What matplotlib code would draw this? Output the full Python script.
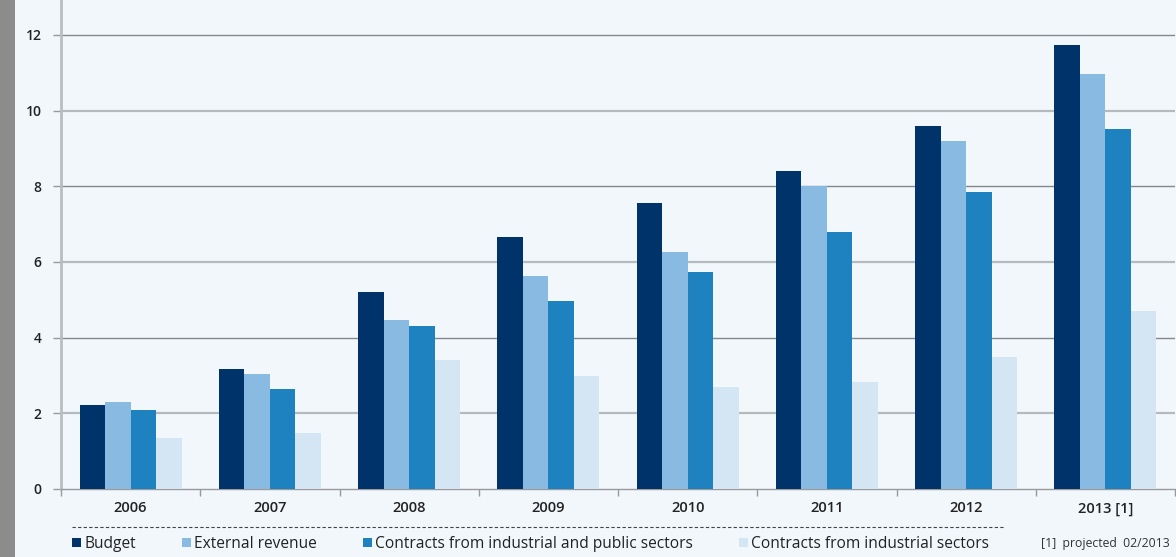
import numpy as np
import matplotlib
matplotlib.use('Agg')
import matplotlib.pyplot as plt
from matplotlib.patches import Rectangle
from matplotlib.lines import Line2D

plt.rcParams['font.family'] = ['Open Sans', 'DejaVu Sans']

# data
years = ['2006', '2007', '2008', '2009', '2010', '2011', '2012', '2013 [1]']
budget = [2.22, 3.17, 5.21, 6.65, 7.55, 8.41, 9.59, 11.74]
external_revenue = [2.31, 3.04, 4.46, 5.63, 6.26, 8.00, 9.19, 10.96]
contracts_ind_public = [2.10, 2.64, 4.31, 4.98, 5.73, 6.79, 7.84, 9.51]
contracts_ind = [1.36, 1.47, 3.41, 2.99, 2.69, 2.83, 3.49, 4.70]
yticks = [0, 2, 4, 6, 8, 10, 12]

series = [budget, external_revenue, contracts_ind_public, contracts_ind]
labels = ['Budget', 'External revenue',
          'Contracts from industrial and public sectors',
          'Contracts from industrial sectors']
colors = ['#00336a', '#89bbe2', '#1f82c0', '#d4e5f3']
bg = '#f2f7fc'

fig = plt.figure(figsize=(11.76, 5.57), dpi=100)
fig.patch.set_facecolor(bg)
# grey strip on the left edge
fig.patches.append(Rectangle((0, 0), 15 / 1176, 1, transform=fig.transFigure,
                             facecolor='#8c8c8c', edgecolor='none'))

ax = fig.add_axes([61 / 1176, 1 - 489 / 557, 1114 / 1176, 489 / 557])
ax.set_facecolor(bg)

x = np.arange(len(years))
w = 0.183
for i, (vals, c) in enumerate(zip(series, colors)):
    ax.bar(x + (i - 1.5) * w, vals, width=w, color=c, zorder=3,
           edgecolor='none')

ax.set_xlim(-0.5, len(years) - 0.5)
ax.set_ylim(0, 12.92)
ax.set_yticks(yticks)
# gridlines alternate dark/thin and light/thick as in the original
for k, v in enumerate(yticks[1:]):
    if k % 2 == 0:
        ax.axhline(v, color='#b6b9bd', lw=1.6, zorder=0)
    else:
        ax.axhline(v, color='#84878b', lw=1.0, zorder=0)
ax.tick_params(axis='y', length=6, width=1, color='#9a9a9a', pad=8,
               labelsize=10, labelcolor='#222222')
for t in ax.get_yticklabels():
    t.set_fontweight('semibold')

ax.set_xticks(x)
ax.set_xticklabels(years, fontsize=10.5, color='#222222', fontweight='semibold')
ax.tick_params(axis='x', length=0, pad=9)
ax.set_xticks(np.arange(len(years) + 1) - 0.5, minor=True)
ax.tick_params(axis='x', which='minor', length=5, width=1, color='#9a9a9a')

for s in ['top', 'right']:
    ax.spines[s].set_visible(False)
ax.spines['left'].set_color('#b9bcc0')
ax.spines['left'].set_linewidth(2)
ax.spines['bottom'].set_color('#9a9a9a')
ax.spines['bottom'].set_linewidth(1)

# dashed separator above the legend
fig.add_artist(Line2D([72 / 1176, 1005 / 1176], [1 - 527 / 557] * 2,
                      transform=fig.transFigure, color='#444444', lw=0.8,
                      ls=(0, (3, 2))))

handles = [Rectangle((0, 0), 1, 1, facecolor=c, edgecolor='none') for c in colors]
fig.legend(handles, labels, loc='center left', ncol=4, frameon=False,
           bbox_to_anchor=(72 / 1176, 1 - 544 / 557), fontsize=11.2,
           handlelength=0.6, handleheight=0.6, handletextpad=0.19,
           columnspacing=2.95, labelcolor='#222222', borderaxespad=0,
           borderpad=0)

fig.text(1170 / 1176, 1 - 544 / 557, '[1]  projected  02/2013', fontsize=8.8,
         color='#333333', ha='right', va='center')

fig.savefig('out.png', dpi=100, facecolor=bg)
